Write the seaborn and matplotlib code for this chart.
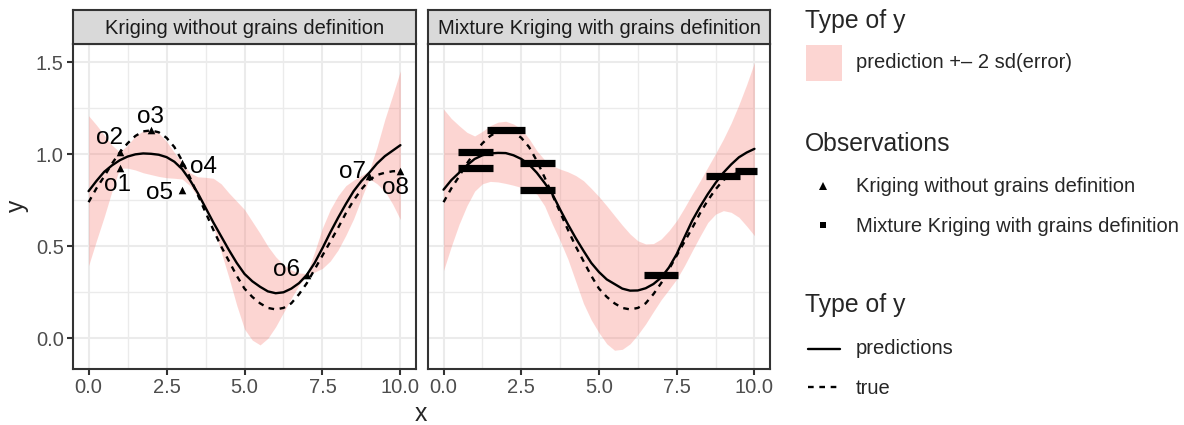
import matplotlib
matplotlib.use("Agg")
import matplotlib.pyplot as plt
from matplotlib.patches import Rectangle
from matplotlib.lines import Line2D
from matplotlib.ticker import FixedLocator
import numpy as np
import pandas as pd
import seaborn as sns

# ---------------- data ----------------
x_grid = [0.0, 0.25, 0.5, 0.75, 1.0, 1.25, 1.5, 1.75, 2.0, 2.25, 2.5, 2.75,
          3.0, 3.25, 3.5, 3.75, 4.0, 4.25, 4.5, 4.75, 5.0, 5.25, 5.5, 5.75,
          6.0, 6.25, 6.5, 6.75, 7.0, 7.25, 7.5, 7.75, 8.0, 8.25, 8.5, 8.75,
          9.0, 9.25, 9.5, 9.75, 10.0]

true_y = [0.74, 0.815, 0.88, 0.95, 1.01, 1.06, 1.10, 1.125, 1.13, 1.12, 1.09, 1.04,
          0.965, 0.875, 0.78, 0.685, 0.59, 0.50, 0.42, 0.34, 0.27, 0.225, 0.19, 0.165,
          0.157, 0.165, 0.19, 0.24, 0.30, 0.375, 0.45, 0.525, 0.60, 0.68, 0.75, 0.81,
          0.86, 0.888, 0.90, 0.908, 0.91]

pred_krig = [0.80, 0.855, 0.905, 0.94, 0.968, 0.988, 1.0, 1.005, 1.003, 0.998, 0.985, 0.96,
             0.92, 0.86, 0.79, 0.71, 0.63, 0.555, 0.48, 0.41, 0.35, 0.31, 0.28, 0.255,
             0.245, 0.25, 0.27, 0.30, 0.345, 0.41, 0.49, 0.575, 0.655, 0.73, 0.80, 0.855,
             0.90, 0.95, 0.99, 1.02, 1.05]
lower_krig = [0.395, 0.53, 0.66, 0.80, 0.925, 0.925, 0.915, 0.90, 0.89, 0.88, 0.873, 0.87,
              0.866, 0.83, 0.77, 0.70, 0.607, 0.47, 0.33, 0.18, 0.05, -0.01, -0.036, 0.0,
              0.063, 0.14, 0.217, 0.29, 0.342, 0.36, 0.38, 0.42, 0.48, 0.56, 0.65, 0.76,
              0.868, 0.84, 0.80, 0.73, 0.645]
upper_krig = [1.21, 1.16, 1.105, 1.05, 1.012, 1.05, 1.10, 1.128, 1.135, 1.115, 1.07, 1.01,
              0.956, 0.90, 0.878, 0.875, 0.87, 0.84, 0.79, 0.745, 0.70, 0.635, 0.57, 0.50,
              0.443, 0.40, 0.371, 0.355, 0.352, 0.47, 0.60, 0.70, 0.775, 0.83, 0.86, 0.885,
              0.91, 1.04, 1.19, 1.32, 1.455]

pred_mix = [0.808, 0.86, 0.90, 0.94, 0.975, 0.995, 1.005, 1.008, 1.007, 0.995, 0.975, 0.945,
            0.90, 0.845, 0.784, 0.70, 0.62, 0.545, 0.476, 0.41, 0.36, 0.32, 0.295, 0.27,
            0.259, 0.26, 0.272, 0.295, 0.33, 0.385, 0.458, 0.55, 0.64, 0.715, 0.784, 0.845,
            0.90, 0.945, 0.984, 1.01, 1.03]
lower_mix = [0.368, 0.50, 0.62, 0.72, 0.80, 0.84, 0.853, 0.85, 0.842, 0.832, 0.82, 0.805,
             0.784, 0.72, 0.62, 0.53, 0.43, 0.31, 0.19, 0.10, 0.03, -0.03, -0.065, -0.06,
             -0.03, 0.02, 0.078, 0.145, 0.21, 0.265, 0.322, 0.395, 0.476, 0.555, 0.63, 0.675,
             0.694, 0.685, 0.658, 0.61, 0.558]
upper_mix = [1.246, 1.195, 1.156, 1.12, 1.10, 1.125, 1.156, 1.175, 1.18, 1.165, 1.138, 1.085,
             1.02, 0.97, 0.938, 0.92, 0.905, 0.885, 0.857, 0.815, 0.77, 0.72, 0.667, 0.615,
             0.567, 0.53, 0.513, 0.515, 0.54, 0.585, 0.64, 0.71, 0.784, 0.855, 0.93, 1.005,
             1.083, 1.17, 1.27, 1.38, 1.50]

obs_x = [1, 1, 2, 3, 3, 7, 9, 10]
obs_y = [0.925, 1.012, 1.13, 0.955, 0.807, 0.343, 0.88, 0.911]
obs_labels = ["o1", "o2", "o3", "o4", "o5", "o6", "o7", "o8"]

# grain intervals (mixture kriging)
grain_lo = [0.45, 0.45, 1.39, 2.45, 2.45, 6.45, 8.44, 9.39]
grain_hi = [1.58, 1.58, 2.61, 3.60, 3.60, 7.54, 9.54, 10.09]

panel_titles = ["Kriging without grains definition",
                "Mixture Kriging with grains definition"]
x_ticks = [0.0, 2.5, 5.0, 7.5, 10.0]
x_ticklabels = ["0.0", "2.5", "5.0", "7.5", "10.0"]
y_ticks = [0.0, 0.5, 1.0, 1.5]
y_ticklabels = ["0.0", "0.5", "1.0", "1.5"]

# text label placement for the observation labels (left panel)
label_x = [0.94, 0.67, 1.99, 3.67, 2.27, 6.35, 8.45, 9.85]
label_y = [0.833, 1.087, 1.204, 0.933, 0.788, 0.371, 0.902, 0.815]

# ---------------- style ----------------
sns.set_theme(style="white")
plt.rcParams["font.family"] = ["Liberation Sans", "DejaVu Sans"]

W, H = 1184, 425
fig = plt.figure(figsize=(W / 100, H / 100), dpi=100)
fig.patch.set_facecolor("white")

SMALL = 14.5
BIG = 17.8


def fx(px):
    return px / W


def fy(py):
    return 1 - py / H


BORDER = "#333333"
GRID = "#EBEBEB"
RIB = "#F8766D"
panels = [(73, 416), (428, 770)]
top, bot, strip_top = 44, 369, 10

ribbons = [(lower_krig, upper_krig), (lower_mix, upper_mix)]
preds = [pred_krig, pred_mix]

for i, (l, r) in enumerate(panels):
    ax = fig.add_axes([fx(l), fy(bot), (r - l) / W, (bot - top) / H])
    ax.set_facecolor("white")
    ax.set_axisbelow(True)
    lo, up = ribbons[i]
    ax.fill_between(x_grid, lo, up, color=RIB, alpha=0.3, lw=0, zorder=2)

    df = pd.DataFrame({
        "x": x_grid * 2,
        "y": list(preds[i]) + list(true_y),
        "type": ["predictions"] * len(x_grid) + ["true"] * len(x_grid),
    })
    sns.lineplot(data=df, x="x", y="y", style="type",
                 dashes={"predictions": "", "true": (2.4, 2.4)},
                 color="black", lw=1.7, legend=False, ax=ax, zorder=3)

    if i == 0:
        sns.scatterplot(x=obs_x, y=obs_y, marker="^", s=30, color="black",
                        linewidth=0, ax=ax, zorder=4)
        for lx, ly, t in zip(label_x, label_y, obs_labels):
            ax.text(lx, ly, t, fontsize=17.5, ha="center", va="center",
                    color="black", zorder=5)
    else:
        ax.hlines(obs_y, grain_lo, grain_hi, colors="black", lw=5.2,
                  capstyle="butt", zorder=4)

    ax.set_xlim(-0.5, 10.5)
    ax.set_ylim(-0.167, 1.60)
    ax.xaxis.set_major_locator(FixedLocator(x_ticks))
    ax.xaxis.set_minor_locator(FixedLocator([1.25, 3.75, 6.25, 8.75]))
    ax.yaxis.set_major_locator(FixedLocator(y_ticks))
    ax.yaxis.set_minor_locator(FixedLocator([0.25, 0.75, 1.25]))
    ax.set_xticklabels(x_ticklabels)
    ax.grid(which="major", color=GRID, lw=1.5)
    ax.grid(which="minor", color=GRID, lw=1.0)
    ax.tick_params(which="major", length=4.2, width=1.5, color=BORDER,
                   labelsize=SMALL, labelcolor="#4D4D4D", pad=2.5,
                   bottom=True, left=(i == 0))
    ax.tick_params(which="minor", length=0)
    if i == 0:
        ax.set_yticklabels(y_ticklabels)
    else:
        ax.set_yticklabels([])
    ax.set_xlabel("")
    ax.set_ylabel("")
    for s in ax.spines.values():
        s.set_color(BORDER)
        s.set_linewidth(1.5)
        s.set_visible(True)

    sax = fig.add_axes([fx(l), fy(top), (r - l) / W, (top - strip_top) / H])
    sax.set_facecolor("#D9D9D9")
    sax.set_xticks([])
    sax.set_yticks([])
    for s in sax.spines.values():
        s.set_color(BORDER)
        s.set_linewidth(1.5)
    sax.text(0.5, 0.47, panel_titles[i], ha="center", va="center",
             fontsize=SMALL, color="#1A1A1A", transform=sax.transAxes)

# axis titles
fig.text(fx(421), fy(421), "x", fontsize=BIG, ha="center", va="baseline")
fig.text(fx(17), fy(206), "y", fontsize=BIG, ha="center", va="center",
         rotation=90)

# ---------------- legends (drawn manually) ----------------
LX = 805
fig.text(fx(LX), fy(21), "Type of y", fontsize=BIG, ha="left", va="center")
fig.add_artist(Rectangle((fx(806), fy(81)), 36 / W, 36 / H,
                         transform=fig.transFigure, facecolor=RIB, alpha=0.3,
                         lw=0))
fig.text(fx(856), fy(63), "prediction +\u2013 2 sd(error)", fontsize=SMALL,
         ha="left", va="center")

fig.text(fx(LX), fy(144), "Observations", fontsize=BIG, ha="left", va="center")
fig.add_artist(Line2D([fx(823)], [fy(186)], marker="^", markersize=5.5,
                      color="black", lw=0, markeredgewidth=0,
                      transform=fig.transFigure))
fig.text(fx(856), fy(187), "Kriging without grains definition", fontsize=SMALL,
         ha="left", va="center")
fig.add_artist(Line2D([fx(823)], [fy(225)], marker="s", markersize=5,
                      color="black", lw=0, markeredgewidth=0,
                      transform=fig.transFigure))
fig.text(fx(856), fy(226), "Mixture Kriging with grains definition",
         fontsize=SMALL, ha="left", va="center")

fig.text(fx(LX), fy(305), "Type of y", fontsize=BIG, ha="left", va="center")
fig.add_artist(Line2D([fx(808), fx(840)], [fy(349), fy(349)], color="black",
                      lw=1.7, transform=fig.transFigure))
fig.text(fx(856), fy(349), "predictions", fontsize=SMALL, ha="left", va="center")
fig.add_artist(Line2D([fx(808), fx(840)], [fy(387), fy(387)], color="black",
                      lw=1.7, linestyle=(0, (2.4, 2.4)),
                      transform=fig.transFigure))
fig.text(fx(856), fy(388), "true", fontsize=SMALL, ha="left", va="center")

fig.savefig("out.png", dpi=100, facecolor="white")
